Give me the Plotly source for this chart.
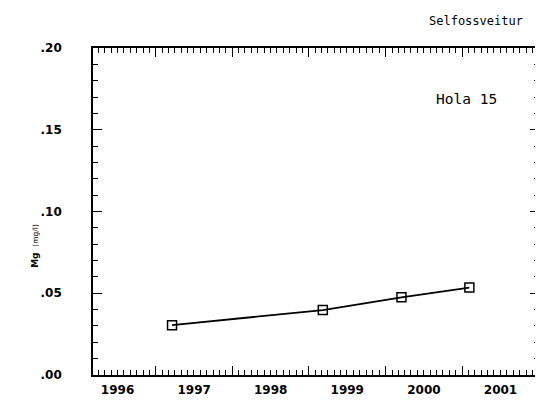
import plotly.graph_objects as go

dates = ["1997-03-19", "1999-03-08", "2000-03-17", "2001-02-04"]
mg = [0.0305, 0.0397, 0.0475, 0.0535]
ytick_vals = [0.0, 0.05, 0.10, 0.15, 0.20]
ytick_text = [".00", ".05", ".10", ".15", ".20"]
title_text = "Selfossveitur"
station = "Hola 15"
ylabel = "<b>Mg</b>  <span style='font-size:7.5px'>(mg/l)</span>"

fig = go.Figure()
fig.add_trace(go.Scatter(
    x=dates, y=mg, mode="lines+markers",
    line=dict(color="black", width=1.8),
    marker=dict(symbol="square-open", size=9, color="black", line=dict(width=1.5, color="black")),
    showlegend=False,
))

tickfont = dict(family="DejaVu Sans", size=12, color="black", weight="bold")

fig.update_layout(
    width=543, height=401,
    margin=dict(l=85, r=12, t=40, b=34),
    paper_bgcolor="white", plot_bgcolor="white",
    xaxis=dict(
        type="date", range=["1996-03-07", "2002-01-02"],
        tick0="1996-01-01", dtick="M12", tickformat="%Y", ticklabelmode="period",
        ticks="inside", ticklen=9, tickwidth=1.2, tickcolor="black",
        minor=dict(dtick="M1", ticks="inside", ticklen=5, tickwidth=1, tickcolor="black"),
        showline=True, linecolor="black", linewidth=1.6, mirror="allticks",
        showgrid=False, zeroline=False, tickfont=tickfont, automargin=False,
        ticklabelstandoff=3,
    ),
    yaxis=dict(
        range=[0, 0.2], tickvals=ytick_vals, ticktext=ytick_text,
        ticks="inside", ticklen=9, tickwidth=1.2, tickcolor="black",
        minor=dict(dtick=0.01, ticks="inside", ticklen=5, tickwidth=1, tickcolor="black"),
        showline=True, linecolor="black", linewidth=1.6, mirror="allticks",
        showgrid=False, zeroline=False, tickfont=tickfont, ticklabelstandoff=27,
        automargin=False,
    ),
    annotations=[
        dict(text=title_text, xref="paper", yref="paper", x=1.0, y=1.0, yshift=27,
             xanchor="right", yanchor="middle", showarrow=False, xshift=-14,
             font=dict(family="DejaVu Sans Mono", size=12, color="black")),
        dict(text=station, xref="paper", yref="paper", x=0.911, y=0.844,
             xanchor="right", yanchor="middle", showarrow=False,
             font=dict(family="DejaVu Sans Mono", size=14.5, color="black")),
        dict(text=ylabel, xref="paper", yref="y", x=0, y=0.079, xshift=-58,
             textangle=-90, xanchor="center", yanchor="middle", showarrow=False,
             font=dict(family="DejaVu Sans", size=9, color="black")),
    ],
)

fig.write_html("out.html")
